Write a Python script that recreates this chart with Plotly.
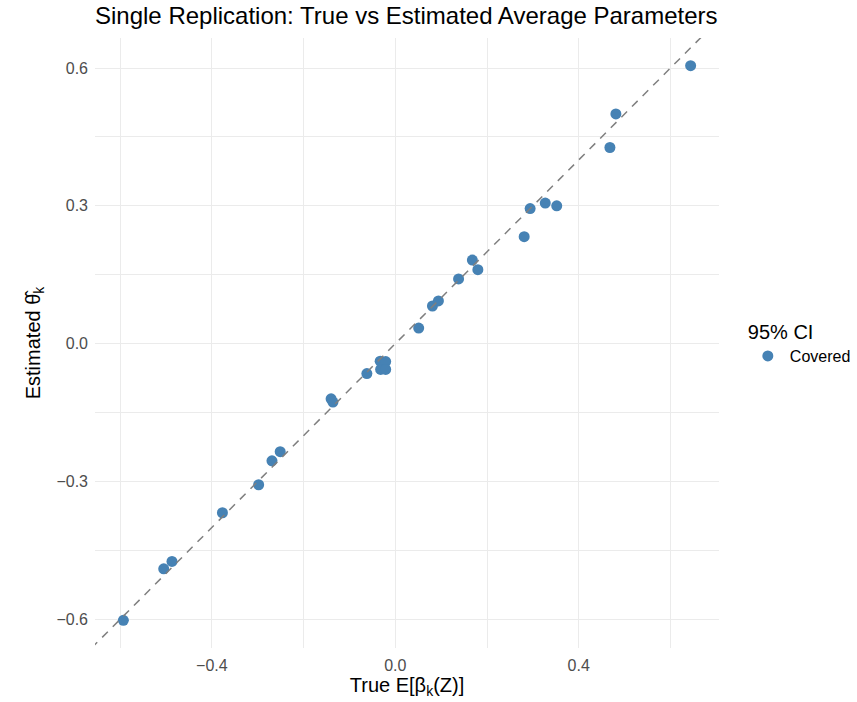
import plotly.graph_objects as go

# True average effects E[beta_k(Z)] and estimated theta_k for one replication
true_vals = [-0.593, -0.505, -0.487, -0.377, -0.298, -0.269, -0.251,
             -0.140, -0.136, -0.062, -0.033, -0.021, -0.032, -0.021,
             0.051, 0.081, 0.094, 0.138, 0.168, 0.180,
             0.281, 0.294, 0.327, 0.352, 0.468, 0.481, 0.644]
est_vals = [-0.602, -0.490, -0.474, -0.368, -0.307, -0.255, -0.235,
            -0.120, -0.127, -0.065, -0.038, -0.039, -0.056, -0.056,
            0.034, 0.082, 0.093, 0.141, 0.182, 0.161,
            0.233, 0.294, 0.306, 0.300, 0.427, 0.500, 0.605]
ci_status = "Covered"

FONT = "Liberation Sans, Arial, sans-serif"
POINT_COLOR = "#4682B4"
GRID = "#ebebeb"


def padded(vals, frac=0.05):
    lo, hi = min(vals), max(vals)
    pad = (hi - lo) * frac
    return [lo - pad, hi + pad]


x_range = padded(true_vals)
y_range = padded(est_vals)

fig = go.Figure()

# 45-degree reference line spanning the whole panel
lo = min(x_range[0], y_range[0])
hi = max(x_range[1], y_range[1])
fig.add_shape(type="line", xref="x", yref="y", x0=lo, y0=lo, x1=hi, y1=hi,
              line=dict(color="#7f7f7f", width=1.5, dash="8px,7px"),
              layer="above")

fig.add_trace(go.Scatter(
    x=true_vals, y=est_vals, mode="markers", name=ci_status,
    marker=dict(color=POINT_COLOR, size=11, line=dict(width=0)),
    showlegend=True,
))

fig.update_layout(
    width=857, height=702,
    margin=dict(l=95, r=138, t=38, b=54, autoexpand=False),
    paper_bgcolor="white", plot_bgcolor="white",
    font=dict(family=FONT, color="black"),
    title=dict(text="Single Replication: True vs Estimated Average Parameters",
               x=95 / 857, xanchor="left", xref="container",
               y=1 - 16 / 702, yanchor="middle", yref="container",
               font=dict(size=24, color="black", family=FONT)),
    legend=dict(x=1.043, xanchor="left", y=0.5, yanchor="middle",
                title=dict(text="95% CI", font=dict(size=20, color="black")),
                font=dict(size=16, color="black"),
                itemwidth=34,
                bgcolor="rgba(0,0,0,0)"),
)

fig.update_xaxes(
    range=x_range, tick0=0, dtick=0.4, tickformat=".1f",
    showgrid=True, gridcolor=GRID, gridwidth=1.4,
    minor=dict(dtick=0.2, tick0=0, showgrid=True, gridcolor=GRID, gridwidth=0.8),
    zeroline=False, showline=False, ticks="", ticklen=0,
    ticklabelstandoff=6,
    tickfont=dict(size=16, color="#4d4d4d"),
    title=dict(text="True E[β<sub>k</sub>(Z)]", font=dict(size=20, color="black"),
               standoff=4),
)
fig.update_yaxes(
    range=y_range, tick0=0, dtick=0.3, tickformat=".1f",
    showgrid=True, gridcolor=GRID, gridwidth=1.4,
    minor=dict(dtick=0.15, tick0=0, showgrid=True, gridcolor=GRID, gridwidth=0.8),
    zeroline=False, showline=False, ticks="", ticklen=0,
    ticklabelstandoff=6,
    tickfont=dict(size=16, color="#4d4d4d"),
    title=dict(text="Estimated θ̂<sub>k</sub>", font=dict(size=20, color="black"),
               standoff=10),
)

fig.write_html("out.html")
